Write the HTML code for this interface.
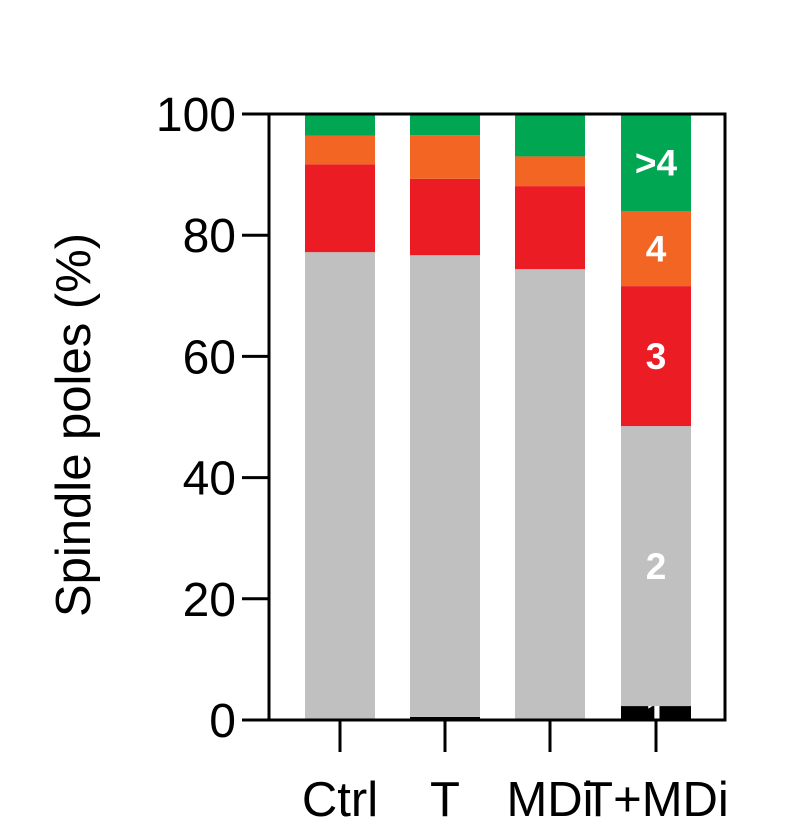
<!DOCTYPE html>
<html><head><meta charset="utf-8"><style>
body{margin:0;background:#fff}
svg text{font-family:"Liberation Sans",Arial,sans-serif}
</style></head><body>
<svg width="788" height="822" viewBox="0 0 788 822">
<g id="bars"></g>
<g id="axes"></g>
<text x="90" y="425" font-size="49" text-anchor="middle" transform="rotate(-90 90 425)">Spindle poles (%)</text>
</svg>
<script>
const categories=["Ctrl","T","MDi","T+MDi"];
const seriesNames=["1","2","3","4",">4"];
const s1=[0,0.5,0,2.3];
const s2=[77.2,76.2,74.4,46.2];
const s3=[14.5,12.6,13.7,23.1];
const s4=[4.7,7.2,4.9,12.4];
const s5=[3.6,3.5,7.0,16.0];
const yTicks=[0,20,40,60,80,100];
const colors=["#000000","#c0c0c0","#ec1c24","#f26522","#00a651"];
const series=[s1,s2,s3,s4,s5];
const NS="http://www.w3.org/2000/svg";
const y0=720,y100=114,xLeft=269,xRight=725,bw=70;
const centers=[340,445,550,656];
function ys(v){return y0-(y0-y100)*v/100;}
function xc(i){return centers[i];}
const bars=document.getElementById('bars'),axes=document.getElementById('axes');
function mk(tag,attrs,parent){const e=document.createElementNS(NS,tag);for(const k in attrs)e.setAttribute(k,attrs[k]);parent.appendChild(e);return e;}
categories.forEach((c,i)=>{
  let cum=0;
  series.forEach((s,j)=>{
    const v=s[i];
    const top=Math.min(100,cum+v);
    const r=mk('rect',{x:xc(i)-bw/2,y:ys(top),width:bw,height:Math.max(0,ys(cum)-ys(top)),fill:colors[j]},bars);
    
    
    if(i===3&&v>0){
      const t=mk('text',{x:xc(i),y:(ys(cum)+ys(top))/2+13,'font-size':37,'font-weight':'bold',fill:'#fff','text-anchor':'middle'},bars);
      t.textContent=seriesNames[j];
      
      
    }
    cum=top;
  });
  const tk=mk('line',{x1:xc(i),x2:xc(i),y1:y0,y2:752,stroke:'#000','stroke-width':3},axes);
  
  
  const lb=mk('text',{x:xc(i),y:816,'font-size':49,'text-anchor':'middle'},axes);
  lb.textContent=c;
  
  
});
const frame=mk('path',{d:`M${xLeft} ${y100}H${xRight}V${y0}H${xLeft}Z`,fill:'none',stroke:'#000','stroke-width':3},axes);


yTicks.forEach(v=>{
  const l=mk('line',{x1:242,x2:xLeft,y1:ys(v),y2:ys(v),stroke:'#000','stroke-width':3},axes);
  
  
  const t=mk('text',{x:236,y:ys(v)+17,'font-size':48,'text-anchor':'end'},axes);
  t.textContent=v;
  
  
});
</script>
</body></html>
